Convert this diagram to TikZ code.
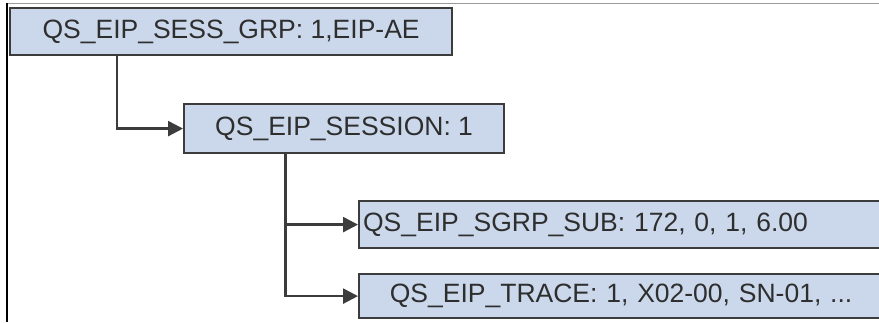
\documentclass[tikz,border=0pt]{standalone}
\usepackage{fontspec}
\setmainfont{Liberation Sans}
\usetikzlibrary{arrows.meta}
\definecolor{boxfill}{HTML}{CBD8EB}
\definecolor{boxline}{HTML}{3C3C3C}
\definecolor{txt}{HTML}{2E2E2E}
\definecolor{frameg}{HTML}{9A9A9A}
\begin{document}
\begin{tikzpicture}[x=1pt,y=-1pt,
  box/.style={draw=boxline, line width=2.2pt, fill=boxfill, text=txt,
    font=\fontsize{26.5}{30}\selectfont, anchor=north west, inner sep=0pt},
  arr/.style={draw=boxline, line width=2.4pt,
    -{Triangle[length=15pt,width=15pt]}}]
\fill[white] (0,0) rectangle (879,322);
\clip (0,0) rectangle (879,322);
\draw[frameg, line width=1pt] (7,3.5) -- (879,3.5);
\draw[black, line width=1.6pt] (7,3) -- (7,322);
\node[box, minimum width=442pt, minimum height=47pt] (b1) at (9,7) {QS\_EIP\_SESS\_GRP: 1,EIP-AE};
\node[box, minimum width=320pt, minimum height=49pt] (b2) at (183,103) {QS\_EIP\_SESSION: 1};
\node[box, minimum height=47pt, text width=522pt, align=left, inner xsep=4pt] (b3) at (358,200) {QS\_EIP\_SGRP\_SUB: 172, 0, 1, 6.00};
\node[box, minimum height=44pt, text width=524pt, align=center, inner xsep=0pt] (b4) at (358,273) {QS\_EIP\_TRACE: 1, X02-00, SN-01, ...};
\draw[arr] ([xshift=108pt]b1.south west) |- (b2.west);
\draw[arr] ([xshift=102.5pt]b2.south west) |- (b3.west);
\draw[arr] ([xshift=102.5pt]b2.south west) |- (b4.west);
\end{tikzpicture}
\end{document}
